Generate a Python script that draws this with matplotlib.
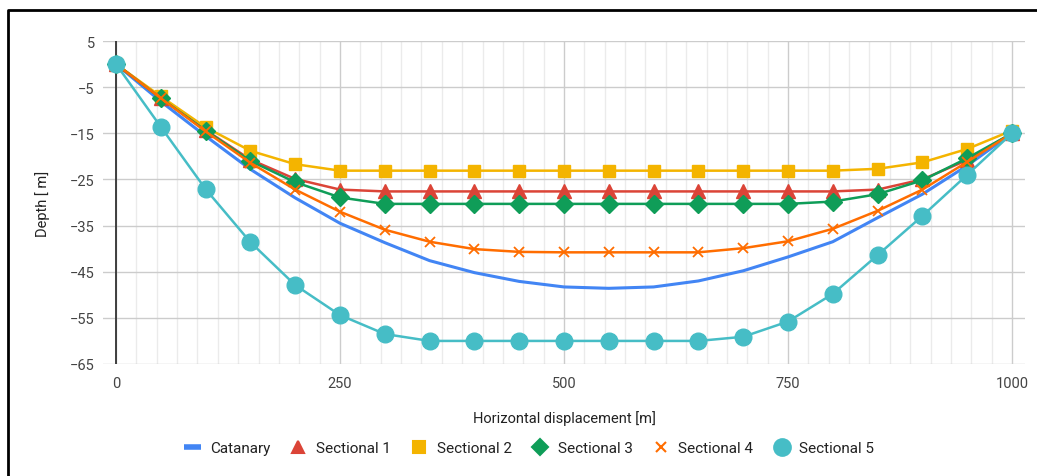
import numpy as np
import matplotlib.pyplot as plt
from matplotlib.lines import Line2D
from matplotlib.ticker import MultipleLocator

plt.rcParams['font.family'] = ['Roboto', 'DejaVu Sans']

# data
x = [0, 50, 100, 150, 200, 250, 300, 350, 400, 450, 500,
     550, 600, 650, 700, 750, 800, 850, 900, 950, 1000]
catanary = [0, -8.1, -15.6, -22.8, -29.0, -34.5, -38.7, -42.6, -45.2, -47.1, -48.3,
            -48.6, -48.3, -47.0, -44.8, -41.8, -38.5, -33.3, -28.2, -22.0, -15.0]
sectional1 = [0, -7.3, -14.3, -20.7, -24.9, -27.2, -27.6, -27.6, -27.6, -27.6, -27.6,
              -27.6, -27.6, -27.6, -27.6, -27.6, -27.6, -27.2, -25.0, -20.8, -15.0]
sectional2 = [0, -7.0, -13.7, -18.8, -21.7, -23.1, -23.1, -23.1, -23.1, -23.1, -23.1,
              -23.1, -23.1, -23.1, -23.1, -23.1, -23.1, -22.7, -21.3, -18.4, -14.4]
sectional3 = [0, -7.4, -14.4, -21.0, -25.6, -28.9, -30.3, -30.3, -30.3, -30.3, -30.3,
              -30.3, -30.3, -30.3, -30.3, -30.3, -29.8, -28.2, -25.2, -20.4, -15.0]
sectional4 = [0, -7.4, -14.6, -21.4, -27.2, -32.0, -35.9, -38.5, -40.1, -40.7, -40.8,
              -40.8, -40.8, -40.8, -39.9, -38.4, -35.7, -31.8, -27.2, -21.2, -15.0]
sectional5 = [0, -13.6, -27.1, -38.6, -47.9, -54.4, -58.5, -60.0, -60.0, -60.0, -60.0,
              -60.0, -60.0, -60.0, -59.1, -55.8, -49.8, -41.4, -32.9, -24.0, -15.0]

names = ['Catanary', 'Sectional 1', 'Sectional 2', 'Sectional 3', 'Sectional 4', 'Sectional 5']
colors = ['#4285F4', '#DB4437', '#F4B400', '#0F9D58', '#FF6D00', '#46BDC6']

fig = plt.figure(figsize=(10.37, 4.77), dpi=100)
ax = fig.add_axes([103 / 1037, 1 - 365 / 477, 922 / 1037, 323 / 477])

ax.plot(x, catanary, color=colors[0], lw=2.2, zorder=3)
ax.plot(x, sectional1, color=colors[1], lw=1.8, marker='^', ms=10, zorder=3)
ax.plot(x, sectional2, color=colors[2], lw=1.8, marker='s', ms=9, zorder=3)
ax.plot(x, sectional3, color=colors[3], lw=1.8, marker='D', ms=9, zorder=3)
ax.plot(x, sectional4, color=colors[4], lw=1.8, marker='x', ms=7, mew=1.3, zorder=3)
ax.plot(x, sectional5, color=colors[5], lw=1.8, marker='o', ms=12, zorder=3)

ax.set_xlim(-14.5, 1014.5)
ax.set_ylim(-65, 5)
ax.set_xticks([0, 250, 500, 750, 1000])
ax.xaxis.set_minor_locator(MultipleLocator(250 / 11))
ax.set_yticks(np.arange(5, -66, -10))
ax.tick_params(which='both', length=0, labelsize=10.5, labelcolor='#444444')
ax.tick_params(axis='x', pad=9)
ax.tick_params(axis='y', pad=6)
ax.grid(axis='y', color='#cccccc', lw=1)
ax.grid(axis='x', which='major', color='#cccccc', lw=1)
ax.grid(axis='x', which='minor', color='#ebebeb', lw=1)
ax.set_axisbelow(True)
ax.axvline(0, color='#333333', lw=1.3, zorder=2)
for s in ax.spines.values():
    s.set_visible(False)

ax.set_xlabel('Horizontal displacement [m]', fontsize=10.5, color='#222222', labelpad=14)
ax.set_ylabel('Depth [ m]', fontsize=10.5, color='#222222', labelpad=14)

markers = [None, '^', 's', 'D', 'x', 'o']
sizes = [0, 9, 8, 8, 7, 12]
handles = [Line2D([], [], color=colors[0], lw=4, solid_capstyle='butt')]
for c, m, s in zip(colors[1:], markers[1:], sizes[1:]):
    handles.append(Line2D([], [], ls='none', color=c, marker=m, ms=s, mew=1.5))
fig.legend(handles, names, loc='center', bbox_to_anchor=(529 / 1037, 1 - 449 / 477),
           ncol=6, frameon=False, fontsize=11, handlelength=1.1, handletextpad=0.6,
           columnspacing=1.3, labelcolor='#222222')

# partial frame around the screenshot
fig.add_artist(Line2D([8 / 1037, 8 / 1037, 1], [0, 1 - 11 / 477, 1 - 11 / 477],
                      color='black', lw=2, transform=fig.transFigure))

fig.savefig('out.png', dpi=100)
